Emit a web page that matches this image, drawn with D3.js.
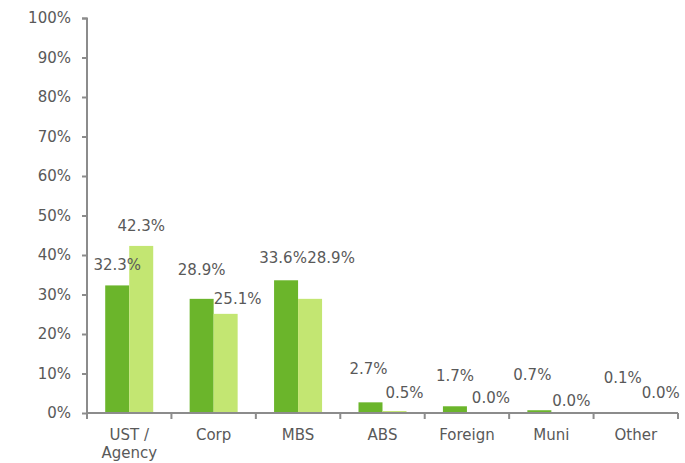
<!DOCTYPE html>
<html><head><meta charset="utf-8">
<script src="https://cdn.jsdelivr.net/npm/d3@7"></script>
<style>body{margin:0;background:#fff}svg{display:block}text{font-family:"DejaVu Sans",Verdana,sans-serif;fill:#595959}</style>
</head><body><svg id="c" width="685" height="463"></svg>
<script>
const categories = ["UST / Agency","Corp","MBS","ABS","Foreign","Muni","Other"];
const series1 = [32.3,28.9,33.6,2.7,1.7,0.7,0.1];
const series2 = [42.3,25.1,28.9,0.5,0.0,0.0,0.0];
const yTicks = [0,10,20,30,40,50,60,70,80,90,100];
// label anchor heights (in %) as placed in the original chart
const label1Y = [37.5,36.2,39.2,11.1,9.4,9.6,8.9];
const label2Y = [47.3,28.9,39.2,5.1,3.8,3.0,5.1];
const label2Dx = [0,12,21,10,12,8,13];
const label1Dx = [0,0,-3,-2,0,-7,-1];

const svg = d3.select("#c");
const m = {l:87, t:18, r:7, b:50};
const W = 685 - m.l - m.r, H = 463 - m.t - m.b;
const g = svg.append("g").attr("transform",`translate(${m.l},${m.t})`);
const x = d3.scaleBand().domain(categories).range([0,W]);
const bw = 24;
const y = d3.scaleLinear().domain([0,100]).range([H,0]);
const colors = ["#6BB52B","#C3E672"];
const fs = 15;

// y axis
const ya = g.append("g").call(d3.axisLeft(y).tickValues(yTicks).tickFormat(d=>d+"%").tickSize(5).tickPadding(11));
ya.select(".domain").attr("stroke","#8c8c8c").attr("stroke-width",2).attr("d",`M-5,0.5H0V${H}`);
ya.selectAll(".tick line").attr("stroke","#8c8c8c").attr("stroke-width",2);
ya.selectAll("text").attr("font-size",fs).attr("font-family",'"DejaVu Sans",Verdana,sans-serif').attr("fill","#595959");

// bars
const data = categories.map((c,i)=>({c, v:[series1[i],series2[i]], ly:[label1Y[i],label2Y[i]], dx:[label1Dx[i],label2Dx[i]]}));
const grp = g.selectAll(".grp").data(data).join("g").attr("transform",d=>`translate(${x(d.c)+x.bandwidth()/2},0)`);
grp.selectAll("rect").data(d=>d.v.map((v,k)=>({v,k}))).join("rect")
  .attr("x",d=>d.k===0?-bw:0).attr("width",bw)
  .attr("y",d=>y(d.v)).attr("height",d=>H-y(d.v)).attr("fill",d=>colors[d.k]);
grp.selectAll("text.lbl").data(d=>d.v.map((v,k)=>({v,k,ly:d.ly[k],dx:d.dx[k]}))).join("text").attr("class","lbl")
  .attr("x",d=>(d.k===0?-bw/2:bw/2)+d.dx).attr("y",d=>y(d.ly)).attr("dy","0.35em")
  .attr("text-anchor","middle").attr("font-size",fs).text(d=>d.v.toFixed(1)+"%");

// x axis
const xa = g.append("g").attr("transform",`translate(0,${H})`);
xa.append("line").attr("x1",0).attr("x2",W).attr("stroke","#8c8c8c").attr("stroke-width",2);
const bounds = categories.map(c=>x(c)).concat([W]);
xa.selectAll("line.t").data(bounds).join("line").attr("class","t")
  .attr("x1",d=>d).attr("x2",d=>d).attr("y1",0).attr("y2",6).attr("stroke","#8c8c8c").attr("stroke-width",2);
const xl = xa.selectAll("text.c").data(categories).join("text").attr("class","c")
  .attr("x",d=>x(d)+x.bandwidth()/2).attr("y",22).attr("text-anchor","middle").attr("font-size",fs);
xl.each(function(d){
  const parts = d==="UST / Agency" ? ["UST /","Agency"] : [d];
  const t = d3.select(this);
  parts.forEach((p,i)=>t.append("tspan").attr("x",x(d)+x.bandwidth()/2).attr("dy",i===0?"0.35em":"1.2em").text(p));
});
</script></body></html>
